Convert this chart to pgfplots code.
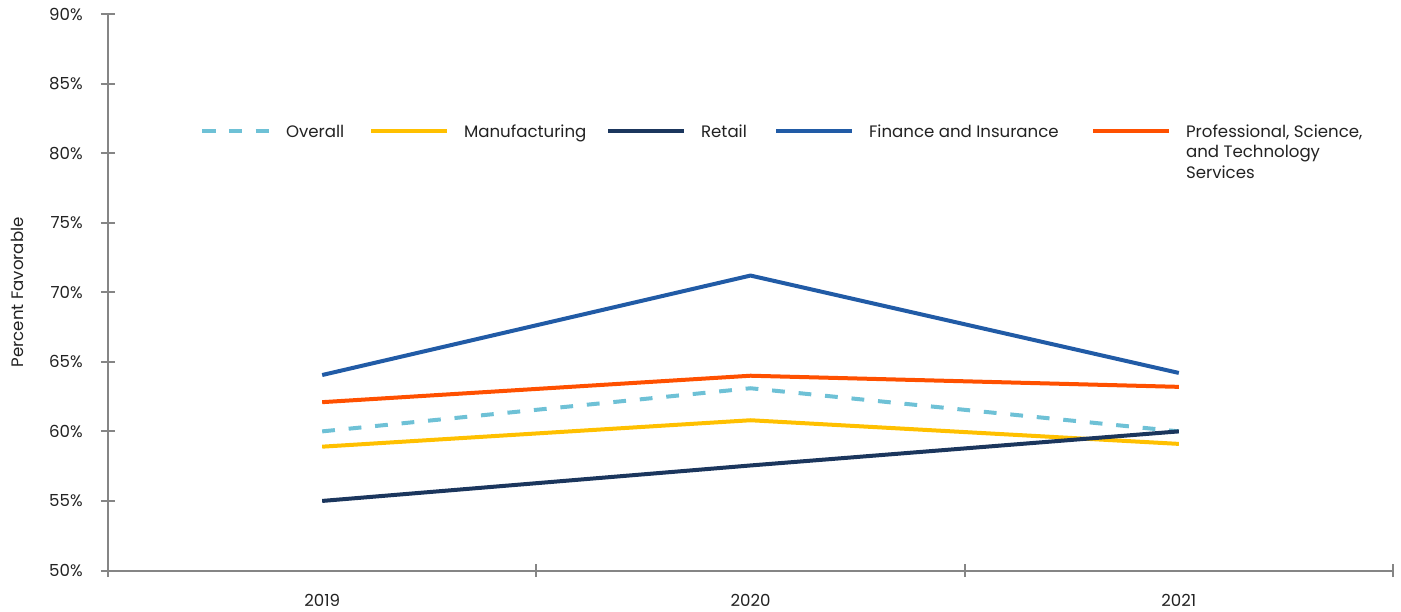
\documentclass[border=0pt]{standalone}
\usepackage{fontspec}
\setmainfont{Poppins}
\usepackage{pgfplots}
\pgfplotsset{compat=1.18}
\definecolor{cOverall}{HTML}{6EC1D6}
\definecolor{cManu}{HTML}{FFC000}
\definecolor{cRetail}{HTML}{1B365D}
\definecolor{cFin}{HTML}{215BA6}
\definecolor{cProf}{HTML}{FF5000}
\definecolor{axisgray}{HTML}{858585}
\definecolor{txt}{HTML}{222222}
\begin{document}
\fontsize{8.3}{10.25}\selectfont
\begin{tikzpicture}
\begin{axis}[
  scale only axis, width=642.5pt, height=278.25pt,
  xmin=-0.5, xmax=2.5, ymin=50, ymax=90,
  axis x line*=bottom, axis y line*=left,
  axis line style={draw=axisgray, line width=1pt, -},
  xtick={0,1,2}, xticklabels={2019,2020,2021},
  minor xtick={-0.5,0.5,1.5,2.5},
  every major x tick/.append style={draw=none},
  ytick={50,55,...,90},
  yticklabel={\pgfmathprintnumber{\tick}\%},
  /pgf/number format/assume math mode=true,
  tick align=center,
  major tick length=7pt, minor tick length=6.5pt,
  tick style={draw=axisgray, line width=1pt},
  tick label style={font=\fontsize{8.3}{10.25}\selectfont, text=txt},
  xticklabel style={anchor=north, yshift=-5.6pt},
  yticklabel style={anchor=east, xshift=-6.2pt},
  ylabel={Percent Favorable},
  every axis y label/.style={at={(axis description cs:0,0.5)}, xshift=-45.5pt, rotate=90, anchor=center, font=\fontsize{8.3}{10.25}\selectfont, text=txt},
  legend image code/.code={\draw[#1] (0pt,3pt) -- (38pt,3pt);},
  legend columns=5,
  legend style={draw=none, fill=none, inner sep=0pt, font=\fontsize{8.3}{10.25}\selectfont, text=txt,
    at={(axis cs:-0.2855,82.07)}, anchor=north west,
    nodes={inner sep=0pt, anchor=base west},
    /tikz/every odd column/.append style={column sep=7.5pt},
    /tikz/every even column/.append style={column sep=0pt}},
  every axis plot/.append style={line width=2pt},
]
\addplot[cOverall, dash pattern=on 6.4pt off 6.9pt,
  legend image code/.code={\draw[cOverall, line width=2pt, dash pattern=on 6.7pt off 6.65pt] (0pt,3pt) -- (33.4pt,3pt);}]
  coordinates {(0,60.0) (1,63.1) (2,60.0)};
\addlegendentry{\makebox[41.5pt][l]{Overall}}
\addplot[cManu] coordinates {(0,58.9) (1,60.8) (2,59.1)};
\addlegendentry{\makebox[71pt][l]{Manufacturing}}
\addplot[cRetail] coordinates {(0,55.0) (1,57.55) (2,60.0)};
\addlegendentry{\makebox[36.5pt][l]{Retail}}
\addplot[cFin] coordinates {(0,64.05) (1,71.2) (2,64.2)};
\addlegendentry{\makebox[111pt][l]{Finance and Insurance}}
\addplot[cProf] coordinates {(0,62.1) (1,64.0) (2,63.2)};
\addlegendentry{\parbox[t]{100pt}{\raggedright Professional, Science,\\and Technology\\Services}}
\end{axis}
\pgfresetboundingbox
\path (-54pt,-20.25pt) rectangle (646.5pt,285.25pt);
\end{tikzpicture}
\end{document}
